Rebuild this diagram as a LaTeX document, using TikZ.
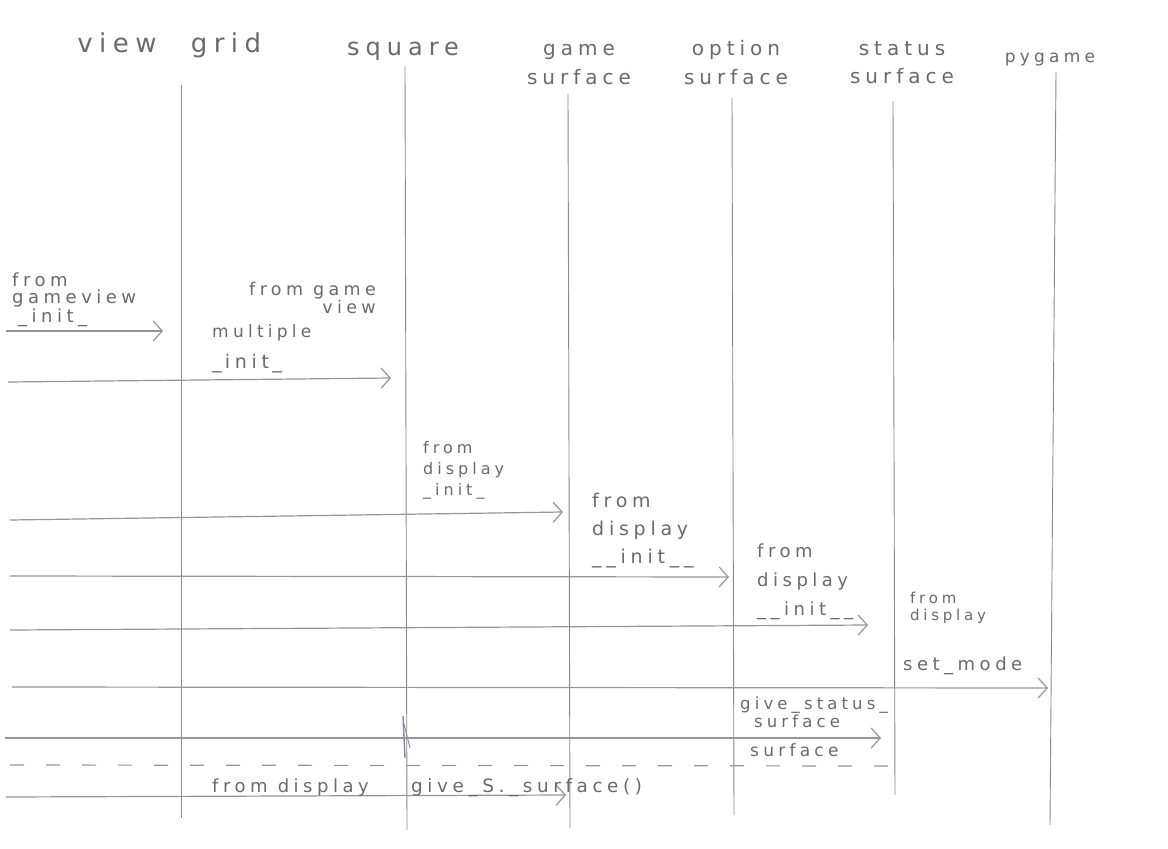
\documentclass[tikz,border=0pt]{standalone}
\usepackage{fontspec}
\usetikzlibrary{arrows.meta}
\newfontfamily\hand[LetterSpace=25]{DejaVu Sans}
\definecolor{inkcol}{RGB}{105,105,115}
\definecolor{msgcol}{RGB}{150,150,150}
\definecolor{lifecol}{RGB}{135,135,160}
\newcommand{\hs}[2]{\hand\fontsize{#1}{#2}\selectfont}
\tikzset{
  lifeline/.style={draw=lifecol, line width=0.9pt},
  msg/.style={draw=msgcol, line width=1.2pt, -{Straight Barb[length=9pt,width=20pt,line width=1.2pt]}},
  retmsg/.style={draw=msgcol, line width=1.2pt, dash pattern=on 14pt off 22pt},
  hdtext/.style={text=inkcol, inner sep=0pt, anchor=base, align=center},
  lbltext/.style={text=inkcol, inner sep=0pt, anchor=base west, align=left},
}
\begin{document}
\begin{tikzpicture}[x=1pt,y=-1pt]
\fill[white] (0,0) rectangle (1168,849);
\useasboundingbox (0,0) rectangle (1168,849);

% headers (anchor = baseline of last line)
\node[hdtext, font=\hs{26}{30}] (hView)   at (117,52) {view};
\node[hdtext, font=\hs{26}{30}] (hGrid)   at (226,52) {grid};
\node[hdtext, font=\hs{24}{30}] (hSquare) at (403,55) {square};
\node[hdtext, font=\hs{20}{29}] (hGame)   at (579,84) {game\\surface};
\node[hdtext, font=\hs{20}{29}] (hOption) at (736,84) {option\\surface};
\node[hdtext, font=\hs{20}{28}] (hStatus) at (902,83) {status\\surface};
\node[hdtext, font=\hs{17}{20}] (hPygame) at (1050,62) {pygame};

% lifelines
\coordinate (gT) at (181,85);  \coordinate (gB) at (181,818);
\coordinate (sT) at (405,66);  \coordinate (sB) at (407,830);
\coordinate (aT) at (568,94);  \coordinate (aB) at (570,828);
\coordinate (oT) at (732,98);  \coordinate (oB) at (734,815);
\coordinate (tT) at (893,101); \coordinate (tB) at (895,795);
\coordinate (pT) at (1056,72); \coordinate (pB) at (1050,825);
\draw[lifeline] (gT) -- (gB);
\draw[lifeline] (sT) -- (sB);
\draw[lifeline] (aT) -- (aB);
\draw[lifeline] (oT) -- (oB);
\draw[lifeline] (tT) -- (tB);
\draw[lifeline] (pT) -- (pB);
% mark on square lifeline
\draw[lifeline, line width=1.4pt] (403,716) -- (405,758);
\draw[lifeline] (404,724) -- (410,748);

% messages
\coordinate (m1s) at (6,331);   \coordinate (m1e) at (163,331);
\coordinate (m2s) at (8,382);   \coordinate (m2e) at (391,378);
\coordinate (m3s) at (10,520);  \coordinate (m3e) at (563,512);
\coordinate (m4s) at (10,576);  \coordinate (m4e) at (729,577);
\coordinate (m5s) at (10,630);  \coordinate (m5e) at (868,625);
\coordinate (m6s) at (12,687);  \coordinate (m6e) at (1048,688);
\coordinate (m7s) at (5,738);   \coordinate (m7e) at (881,738);
\coordinate (m8s) at (10,765);  \coordinate (m8e) at (888,766);
\coordinate (m9s) at (6,797);   \coordinate (m9e) at (566,795);
\draw[msg] (m1s) -- (m1e);
\draw[msg] (m2s) -- (m2e);
\draw[msg] (m3s) -- (m3e);
\draw[msg] (m4s) -- (m4e);
\draw[msg] (m5s) -- (m5e);
\draw[msg] (m6s) -- (m6e);
\draw[msg] (m7s) -- (m7e);
\draw[retmsg] (m8e) -- (m8s);
\draw[msg] (m9s) -- (m9e);

% labels (anchor = baseline of last line)
\node[lbltext, font=\hs{18}{17}] (l1) at (12,322) {from\\gameview\\\hspace{6pt}\_init\_};
\node[lbltext, align=right, anchor=base east, font=\hs{17.5}{15}] (l2a) at (376,313) {from game\\view};
\node[lbltext, font=\hs{17}{20}] (l2b) at (212,337) {multiple};
\node[lbltext, font=\hs{19}{20}] (l2c) at (212,368) {\_\,init\,\_};
\node[lbltext, font=\hs{16}{21}] (l3) at (423,495) {from\\display\\\_init\_};
\node[lbltext, font=\hs{19}{28}] (l4) at (592,563) {from\\display\\\_\_init\_\_};
\node[lbltext, font=\hs{18}{29}] (l5) at (757,615) {from\\display\\\_\_init\_\_};
\node[lbltext, font=\hs{15}{17}] (l6a) at (910,620) {from\\display};
\node[lbltext, font=\hs{18}{20}] (l6b) at (903,670) {set\_mode};
\node[lbltext, font=\hs{16.5}{16}] (l7) at (740,727) {give\_status\_\\\hspace{14pt}surface};
\node[lbltext, font=\hs{17}{18}] (l8) at (750,756) {surface};
\node[lbltext, font=\hs{18}{20}] (l9a) at (212,792) {from display};
\node[lbltext, font=\hs{18.4}{20}] (l9b) at (411,792) {give\_S.\_surface()};
\end{tikzpicture}
\end{document}
